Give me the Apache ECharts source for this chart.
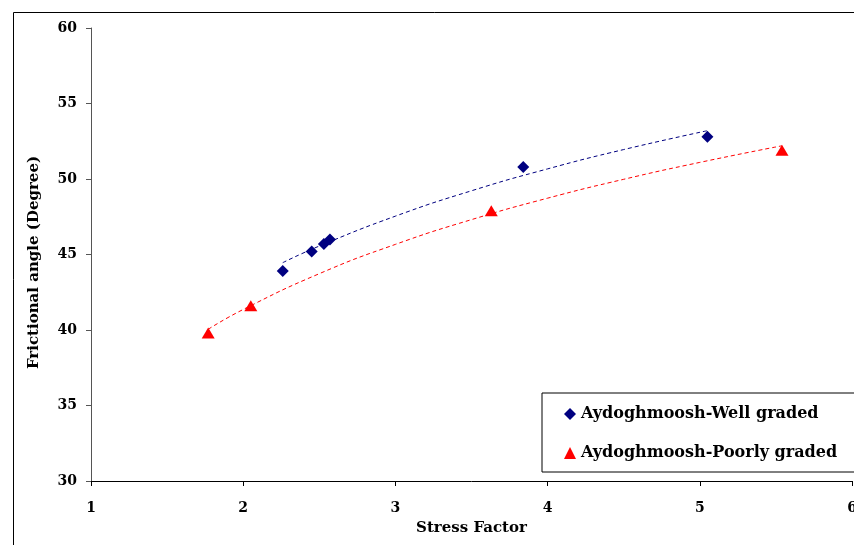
<!DOCTYPE html>
<html><head><meta charset="utf-8">
<script src="https://cdn.jsdelivr.net/npm/echarts@6/dist/echarts.min.js"></script>
<style>html,body{margin:0;padding:0;background:#fff}#c{width:854px;height:545px}</style>
</head><body><div id="c"></div>
<script>
// Data
var wellX = [2.26, 2.45, 2.53, 2.57, 3.84, 5.05];
var wellY = [43.9, 45.2, 45.7, 46.0, 50.8, 52.8];
var poorX = [1.77, 2.05, 3.63, 5.54];
var poorY = [39.8, 41.6, 47.9, 51.9];
// Trend lines
var wellTrendX = [2.26, 2.5, 3, 3.5, 4, 4.5, 5.05];
var wellTrendY = [44.46, 45.56, 47.54, 49.22, 50.67, 51.95, 53.2];
var poorTrendX = [1.77, 2, 2.5, 3, 3.5, 4, 4.5, 5, 5.54];
var poorTrendY = [40.05, 41.36, 43.73, 45.67, 47.31, 48.73, 49.98, 51.1, 52.2];
var seriesNames = ['Aydoghmoosh-Well graded', 'Aydoghmoosh-Poorly graded'];

function zip(a, b) { return a.map(function (v, i) { return [v, b[i]]; }); }
var font = '"DejaVu Serif", serif';
var chart = echarts.init(document.getElementById('c'));
chart.setOption({
  animation: false,
  backgroundColor: '#fff',
  graphic: [{ type: 'rect', left: 11, top: 10, shape: { width: 900, height: 600 },
    style: { fill: 'none', stroke: '#000', lineWidth: 1 }, z: -1 }],
  grid: { left: 91, right: 2, top: 28, bottom: 64, outerBoundsMode: 'none', containLabel: false },
  xAxis: {
    type: 'value', min: 1, max: 6, interval: 1,
    name: 'Stress Factor', nameLocation: 'middle', nameGap: 40,
    nameTextStyle: { fontFamily: font, fontWeight: 'bold', fontSize: 15, color: '#000' },
    axisLine: { lineStyle: { color: '#000', width: 1 } },
    axisTick: { show: true, length: 5, lineStyle: { color: '#000' } },
    axisLabel: { fontFamily: font, fontWeight: 'bold', fontSize: 14, color: '#000', margin: 20 },
    splitLine: { show: false }
  },
  yAxis: {
    type: 'value', min: 30, max: 60, interval: 5,
    name: 'Frictional angle (Degree)', nameLocation: 'middle', nameGap: 49,
    nameTextStyle: { fontFamily: font, fontWeight: 'bold', fontSize: 15, color: '#000', padding: [0, 16, 0, 0] },
    axisLine: { show: true, lineStyle: { color: '#555', width: 1 } },
    axisTick: { show: true, length: 5, lineStyle: { color: '#555' } },
    axisLabel: { fontFamily: font, fontWeight: 'bold', fontSize: 14, color: '#000', margin: 14 },
    splitLine: { show: false }
  },
  legend: {
    data: seriesNames, orient: 'vertical', left: 542, top: 393,
    width: 320, padding: [13, 40, 11, 22], itemGap: 23,
    borderColor: '#000', borderWidth: 1, backgroundColor: '#fff',
    itemWidth: 12, itemHeight: 12,
    textStyle: { fontFamily: font, fontWeight: 'bold', fontSize: 16, color: '#000' }
  },
  series: [
    { name: 'wellTrend', type: 'line', data: zip(wellTrendX, wellTrendY), smooth: true,
      symbol: 'none', lineStyle: { color: '#000080', width: 1, type: [4, 3] }, z: 1 },
    { name: 'poorTrend', type: 'line', data: zip(poorTrendX, poorTrendY), smooth: true,
      symbol: 'none', lineStyle: { color: '#ff0000', width: 1, type: [4, 3] }, z: 1 },
    { name: seriesNames[0], type: 'scatter', data: zip(wellX, wellY),
      symbol: 'diamond', symbolSize: [12, 12], itemStyle: { color: '#000080', opacity: 1 }, z: 3 },
    { name: seriesNames[1], type: 'scatter', data: zip(poorX, poorY),
      symbol: 'triangle', symbolSize: [13, 11], itemStyle: { color: '#ff0000', opacity: 1 }, z: 3 }
  ]
});
</script></body></html>
